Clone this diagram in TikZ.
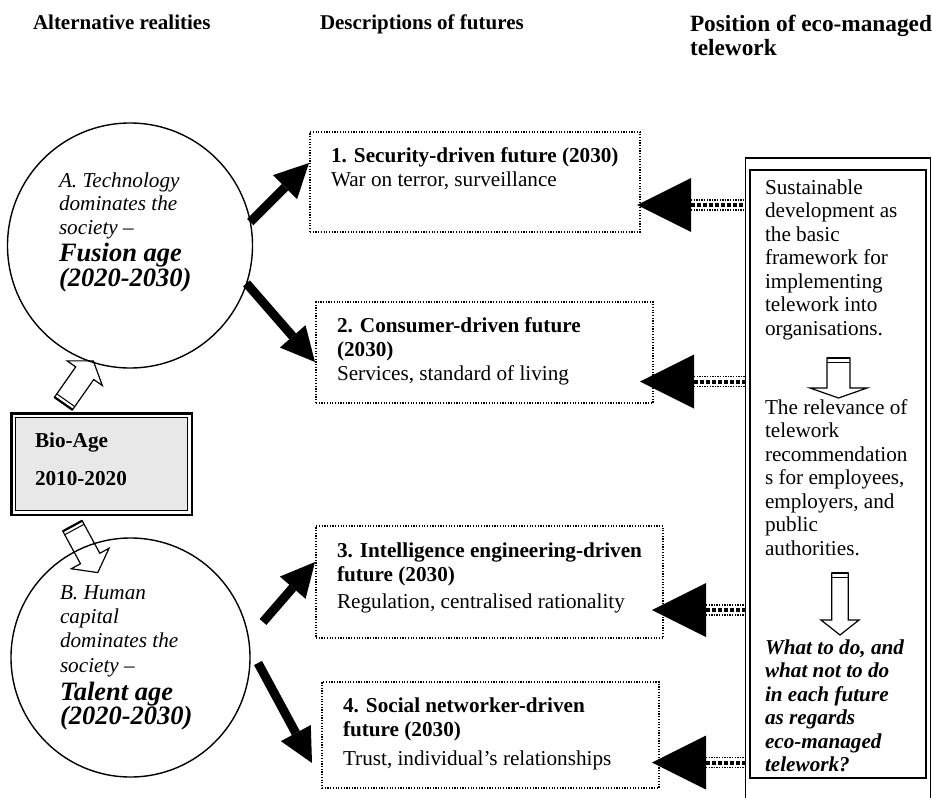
\documentclass[tikz,border=0pt]{standalone}
\usepackage{fontspec}
\setmainfont{Liberation Serif}
\usetikzlibrary{arrows.meta,calc}
\newcommand\agefont{\fontsize{26.5}{26}\selectfont\bfseries}
% hollow block arrow: x, y, angle, length, head start, shaft half width, head half width
\newcommand\hollowarrow[7]{%
  \begin{scope}[shift={(#1,#2)},rotate=#3]
    \draw[line width=1.2pt,fill=white,line join=miter] (0,-#6) -- (#5,-#6) -- (#5,-#7) -- (#4,0) -- (#5,#7) -- (#5,#6) -- (0,#6) -- cycle;
    \draw[line width=2.2pt] (0,-#6) -- (0,#6);
    \draw[line width=1pt] (4,-#6) -- (4,#6);
  \end{scope}}
% striped shaft between two points
\newcommand\stripeshaft[2]{%
  \draw[line width=1.3pt,dash pattern=on 1.3pt off 1.3pt] ([yshift=5pt]#1) -- ([yshift=5pt]#2);
  \draw[line width=4pt,dash pattern=on 4pt off 2pt] (#1) -- (#2);
  \draw[line width=1.3pt,dash pattern=on 1.3pt off 1.3pt] ([yshift=-5pt]#1) -- ([yshift=-5pt]#2);}
\begin{document}
\begin{tikzpicture}[x=1pt,y=1pt,
  every node/.style={inner sep=0pt,outer sep=0pt},
  hdr/.style={anchor=north west,align=left,font=\fontsize{21}{24}\selectfont\bfseries},
  body/.style={anchor=north west,align=left,font=\fontsize{21.2}{24}\selectfont},
  rbody/.style={anchor=north west,align=left,font=\fontsize{21.2}{23.5}\selectfont},
  ctext/.style={anchor=north west,align=left,font=\fontsize{21.2}{23.5}\selectfont\itshape},
  futbox/.style={draw,line width=1.2pt,dash pattern=on 1.2pt off 1.5pt,anchor=north west},
  ring/.style={draw,circle,line width=1.4pt},
  bigarrow/.style={line width=9pt,-{Triangle[length=34pt,width=34pt,line width=0pt]}},
  blackhead/.style={line width=0.4pt,-{Triangle[length=54pt,width=54pt,line width=0pt]}}]
\useasboundingbox (0,0) rectangle (932,-798);
\fill[white] (0,0) rectangle (932,-798);

% headers
\node[hdr] (h1t) at (33,-14.5) {Alternative realities};
\node[hdr] (h2t) at (320,-14.5) {Descriptions of futures};
\node[hdr,font=\fontsize{23.3}{23.5}\selectfont\bfseries] (h3t) at (690,-15.5) {Position of eco-managed\\telework};

% hollow arrows from Bio-Age
\hollowarrow{63.5}{-403.5}{55}{52}{37}{11}{21.5}
\hollowarrow{72.5}{-526}{-61.5}{53}{37}{11}{21.5}

% circles
\node[ring,minimum size=245pt] (A) at (130,-245.5) {};
\node[ring,minimum size=239pt] (B) at (130.5,-657.5) {};
\node[ctext] (At) at (59,-172.5) {A. Technology\\dominates the\\society –\\[4pt]{\agefont Fusion age}\\{\agefont (2020-2030)}};
\node[ctext,font=\fontsize{21.2}{24.3}\selectfont\itshape] (Bt) at (60,-585.5) {B. Human\\capital\\dominates the\\society –\\[4pt]{\agefont Talent age}\\{\agefont (2020-2030)}};

% Bio-Age box
\node[draw,line width=2.5pt,minimum width=180.5pt,minimum height=101.5pt] (bio) at (101.5,-464) {};
\draw[line width=1.2pt,fill=gray!18] ($(bio.north west)+(4,-4)$) rectangle ($(bio.south east)+(-4,4)$);
\node[hdr,font=\fontsize{21.2}{24}\selectfont\bfseries] (biot) at (35,-432.5) {Bio-Age\\[14pt]2010-2020};

% future boxes
\node[futbox,minimum width=330pt,minimum height=100pt] (b1) at (310,-132) {};
\node[futbox,minimum width=337pt,minimum height=101pt] (b2) at (316,-302) {};
\node[futbox,minimum width=347pt,minimum height=112pt] (b3) at (316,-526) {};
\node[futbox,minimum width=337pt,minimum height=106pt] (b4) at (322,-682) {};
\node[body] (b1t) at ($(b1.north west)+(21,-16)$) {\textbf{1. Security-driven future (2030)}\\War on terror, surveillance};
\node[body] (b2t) at ($(b2.north west)+(21,-15.5)$) {\textbf{2. Consumer-driven future}\\\textbf{(2030)}\\Services, standard of living};
\node[body] (b3t) at ($(b3.north west)+(21,-16.5)$) {\textbf{3. Intelligence engineering-driven}\\\textbf{future (2030)}\\[3pt]Regulation, centralised rationality};
\node[body] (b4t) at ($(b4.north west)+(21,-15.5)$) {\textbf{4. Social networker-driven}\\\textbf{future (2030)}\\[5pt]Trust, individual’s relationships};

% right box
\node[draw,line width=1.5pt,minimum width=185pt,minimum height=680pt,anchor=north west] (R) at (745.5,-158) {};
\node[draw,line width=2pt,minimum width=176pt,minimum height=608pt,anchor=north west] (Ri) at (750,-170) {};
\node[rbody] (r1) at (765,-179.5) {Sustainable\\development as\\the basic\\framework for\\implementing\\telework into\\organisations.};
\node[rbody] (r2) at (765,-399.5) {The relevance of\\telework\\recommendation\\s for employees,\\employers, and\\public\\authorities.};
\node[rbody,font=\fontsize{21.2}{23.5}\selectfont\bfseries\itshape] (r3) at (765,-639.5) {What to do, and\\what not to do\\in each future\\as regards\\eco-managed\\telework?};
\hollowarrow{838.5}{-358}{-90}{40}{30}{11.5}{28.5}
\hollowarrow{840}{-573}{-90}{62}{47}{8.3}{19}

% black arrows from circles to futures
\coordinate (a1t) at (309,-163);
\coordinate (a2t) at (315,-362);
\coordinate (b3s) at (263,-622);
\coordinate (b3e) at (315,-562);
\coordinate (b4s) at (258,-663);
\coordinate (b4e) at (312,-763);
\draw[bigarrow] (A.11) -- (a1t);
\draw[bigarrow] (A.-18) -- (a2t);
\draw[bigarrow] (b3s) -- (b3e);
\draw[bigarrow] (b4s) -- (b4e);

% arrows from right box to futures
\coordinate (t1) at (637,-205);
\coordinate (k1) at (691,-205);
\coordinate (t2) at (640,-381.5);
\coordinate (k2) at (694,-381.5);
\coordinate (t3) at (652,-610);
\coordinate (k3) at (706,-610);
\coordinate (t4) at (652,-762.5);
\coordinate (k4) at (706,-762.5);
\stripeshaft{k1}{R.west |- k1}
\stripeshaft{k2}{R.west |- k2}
\stripeshaft{k3}{R.west |- k3}
\stripeshaft{k4}{R.west |- k4}
\draw[blackhead] (k1) -- (t1);
\draw[blackhead] (k2) -- (t2);
\draw[blackhead] (k3) -- (t3);
\draw[blackhead] (k4) -- (t4);
\end{tikzpicture}
\end{document}
